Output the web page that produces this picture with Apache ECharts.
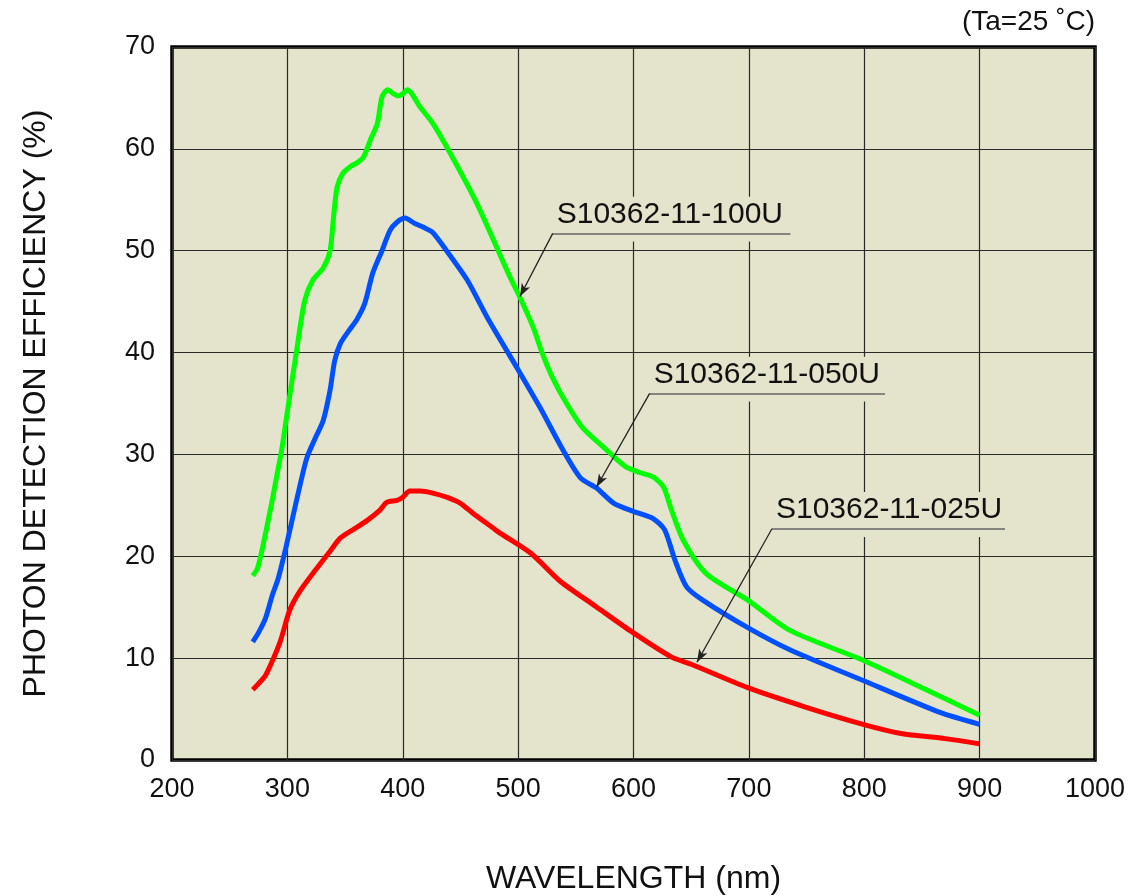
<!DOCTYPE html>
<html>
<head>
<meta charset="utf-8">
<script src="https://cdn.jsdelivr.net/npm/echarts@6/dist/echarts.min.js"></script>
<style>
html,body{margin:0;padding:0;background:#fff;}
#chart{width:1136px;height:896px;}
</style>
</head>
<body>
<div id="chart"></div>
<script>
// ---- data (wavelength nm, photon detection efficiency %) ----
const seriesNames = ['S10362-11-025U', 'S10362-11-050U', 'S10362-11-100U'];
const seriesColors = ['#ff0000', '#0050ff', '#00ff00'];

const pde025U = [
  [270,6.9],[275,7.5],[281,8.3],[288,10.0],[294,11.7],[302,14.7],[311,16.6],[324,18.6],
  [337,20.5],[346,21.8],[358,22.7],[369,23.5],[380,24.5],[386,25.3],[395,25.5],[400,25.8],
  [406,26.4],[415,26.4],[426,26.2],[438,25.8],[450,25.2],[461,24.2],[478,22.8],[484,22.3],
  [511,20.3],[537,17.5],[567,15.1],[597,12.7],[633,10.1],[650,9.4],[699,7.1],[749,5.2],
  [799,3.5],[832,2.6],[870,2.1],[900,1.6]
];
const pde050U = [
  [270,11.6],[275,12.5],[281,13.9],[287,16.2],[292,17.8],[298,20.5],[305,24.0],[311,27.0],
  [317,29.7],[325,31.8],[331,33.3],[337,36.3],[341,39.2],[346,40.9],[353,42.1],[360,43.2],
  [367,44.8],[374,47.8],[382,50.0],[389,52.0],[395,52.8],[402,53.2],[410,52.7],[418,52.3],
  [426,51.8],[438,50.0],[456,47.1],[473,43.5],[499,38.5],[519,34.6],[539,30.4],[554,27.7],
  [568,26.7],[583,25.2],[600,24.4],[617,23.7],[627,22.6],[636,19.6],[646,17.0],[660,15.7],
  [699,13.0],[736,10.8],[799,7.8],[865,4.7],[900,3.5]
];
const pde100U = [
  [270,18.1],[274,18.8],[278,20.6],[286,25.0],[291,28.0],[295,30.4],[300,34.2],[308,40.2],
  [315,45.1],[322,47.1],[331,48.3],[337,50.0],[340,53.3],[343,56.2],[348,57.6],[355,58.3],
  [360,58.6],[366,59.2],[372,60.9],[378,62.5],[382,65.1],[387,65.8],[392,65.4],[396,65.2],
  [400,65.4],[404,65.8],[415,64.1],[426,62.5],[441,59.6],[464,54.7],[493,47.4],[500,45.8],
  [513,42.5],[521,39.9],[530,37.5],[542,35.0],[556,32.6],[577,30.4],[593,28.8],[606,28.2],
  [617,27.8],[626,26.8],[633,24.5],[643,21.6],[663,18.3],[699,15.7],[736,12.7],[799,9.8],
  [850,7.1],[900,4.4]
];
const seriesData = [pde025U, pde050U, pde100U];

const xTicks = [200,300,400,500,600,700,800,900,1000];
const yTicks = [0,10,20,30,40,50,60,70];

// ---- annotation callouts (data coords): underline start, underline end x, arrow tip ----
const callouts = [
  { start:[720,22.7], endX:922, tip:[655,9.6] },
  { start:[614,36.0], endX:818, tip:[568,26.8] },
  { start:[530,51.7], endX:736, tip:[501.6,45.5] }
];

const FONT = 'Liberation Sans, Arial, Helvetica, sans-serif';
const BG = '#e4e3cb';

const chart = echarts.init(document.getElementById('chart'), null, {renderer:'canvas'});

const series = [];
// background patches behind callout labels (cover grid lines)
series.push({
  type:'line', data:[], z:1, silent:true,
  markArea:{
    silent:true,
    itemStyle:{color:BG, opacity:1, borderWidth:0},
    data: callouts.map(c => [
      {coord:[c.start[0]-1, c.start[1]-0.8]},
      {coord:[c.endX+1, c.start[1]+3.6]}
    ])
  }
});
seriesNames.forEach((name, i) => {
  const c = callouts[i];
  series.push({
    name: name,
    type:'line',
    z:2,
    data: seriesData[i],
    smooth: 0.25,
    showSymbol:false,
    symbol:'none',
    lineStyle:{color:seriesColors[i], width:5},
    itemStyle:{color:seriesColors[i]},
    markLine:{
      silent:true,
      animation:false,
      symbol:['none','none'],
      data:[
        [
          {coord:c.start, lineStyle:{color:'#666', width:1.6, type:'solid'},
           label:{show:true, formatter:name, position:'insideStartTop', distance:[4, 4],
                  color:'#111', fontSize:30, fontFamily:FONT}},
          {coord:[c.endX, c.start[1]]}
        ],
        [
          {coord:c.start, symbol:'none', lineStyle:{color:'#222', width:1.3, type:'solid'},
           label:{show:false}},
          {coord:c.tip, symbol:'arrow', symbolSize:[7,13]}
        ]
      ]
    }
  });
});

chart.setOption({
  animation:false,
  backgroundColor:'#ffffff',
  textStyle:{fontFamily:FONT},
  grid:{
    left:172, right:41, top:47, bottom:136,
    containLabel:false, outerBoundsMode:'none',
    show:true, backgroundColor:BG, borderColor:'#000', borderWidth:3.5
  },
  xAxis:{
    type:'value', min:200, max:1000, interval:100,
    name:'WAVELENGTH (nm)', nameLocation:'middle', nameGap:103,
    nameTextStyle:{fontSize:32, color:'#111', fontFamily:FONT},
    axisLine:{show:false}, axisTick:{show:false},
    axisLabel:{fontSize:27, color:'#111', margin:16, fontFamily:FONT,
      formatter: v => xTicks.includes(v) ? String(v) : ''},
    splitLine:{show:true, lineStyle:{color:'#2a2a2a', width:1.2}}
  },
  yAxis:{
    type:'value', min:0, max:70, interval:10,
    name:'PHOTON DETECTION EFFICIENCY (%)', nameLocation:'middle', nameGap:120,
    nameTextStyle:{fontSize:32, color:'#111', fontFamily:FONT},
    axisLine:{show:false}, axisTick:{show:false},
    axisLabel:{fontSize:27, color:'#111', margin:17, fontFamily:FONT,
      formatter: v => yTicks.includes(v) ? String(v) : ''},
    splitLine:{show:true, lineStyle:{color:'#2a2a2a', width:1.2}}
  },
  graphic:[{
    type:'text', right:41, top:8,
    style:{text:'(Ta=25 ˚C)', fontSize:28, fill:'#111', fontFamily:FONT}
  }],
  series: series
});
</script>
</body>
</html>
